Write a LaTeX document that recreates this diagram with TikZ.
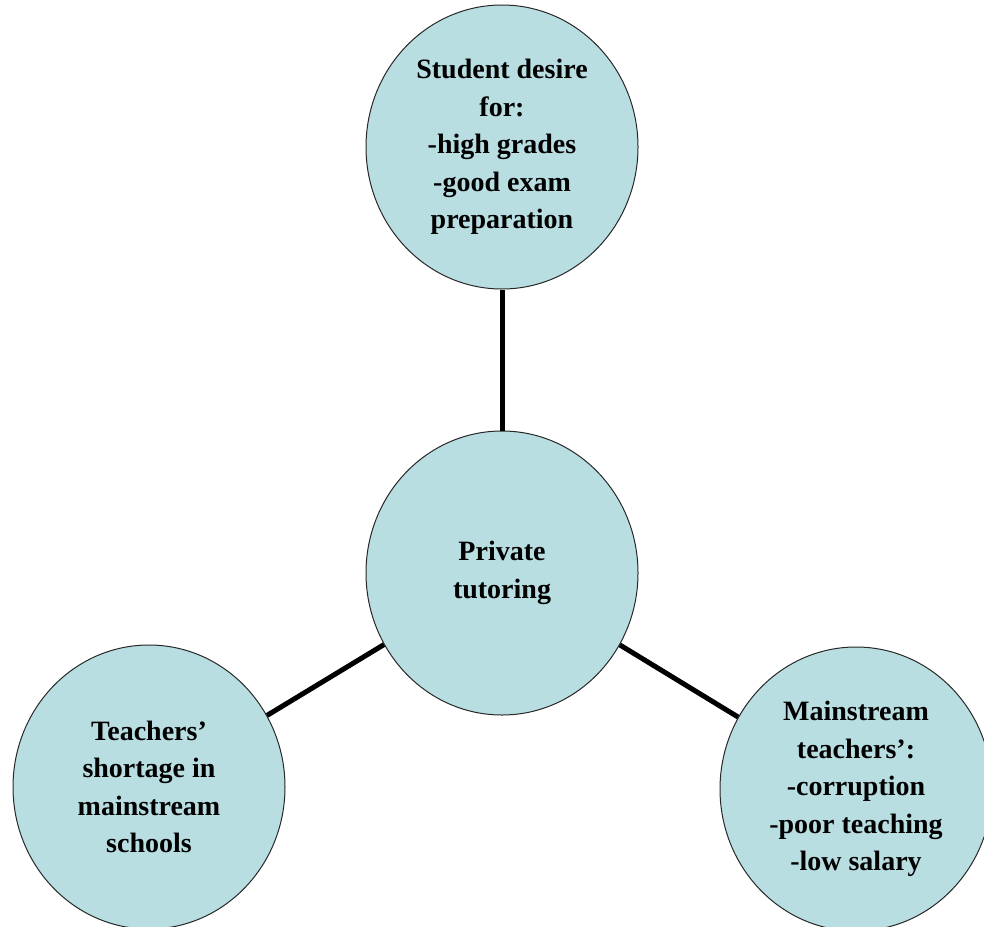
\documentclass[tikz,border=0pt]{standalone}
\usepackage{fontspec}
\setmainfont{Liberation Serif}
\usetikzlibrary{shapes.geometric}
\definecolor{bubble}{RGB}{184,222,226}
\definecolor{rim}{RGB}{40,40,40}
\tikzset{
  bubblenode/.style={ellipse, draw=rim, line width=1pt, fill=bubble,
    minimum width=272pt, minimum height=284pt, inner sep=0pt, align=center,
    font=\fontsize{28}{37.5}\selectfont\bfseries},
  link/.style={line width=5pt, black}
}
\begin{document}
\begin{tikzpicture}[x=1pt,y=-1pt]
\useasboundingbox (0,0) rectangle (984,926);
\node[bubblenode] (top) at (502,147) {Student desire\\for:\\-high grades\\-good exam\\preparation};
\node[bubblenode] (mid) at (502,573) {Private\\tutoring};
\node[bubblenode] (left) at (149,787) {Teachers’\\shortage in\\mainstream\\schools};
\node[bubblenode] (right) at (856,789) {Mainstream\\teachers’:\\-corruption\\-poor teaching\\-low salary};
\draw[link] (mid) -- (top);
\draw[link] (mid) -- (left);
\draw[link] (mid) -- (right);
\end{tikzpicture}
\end{document}
